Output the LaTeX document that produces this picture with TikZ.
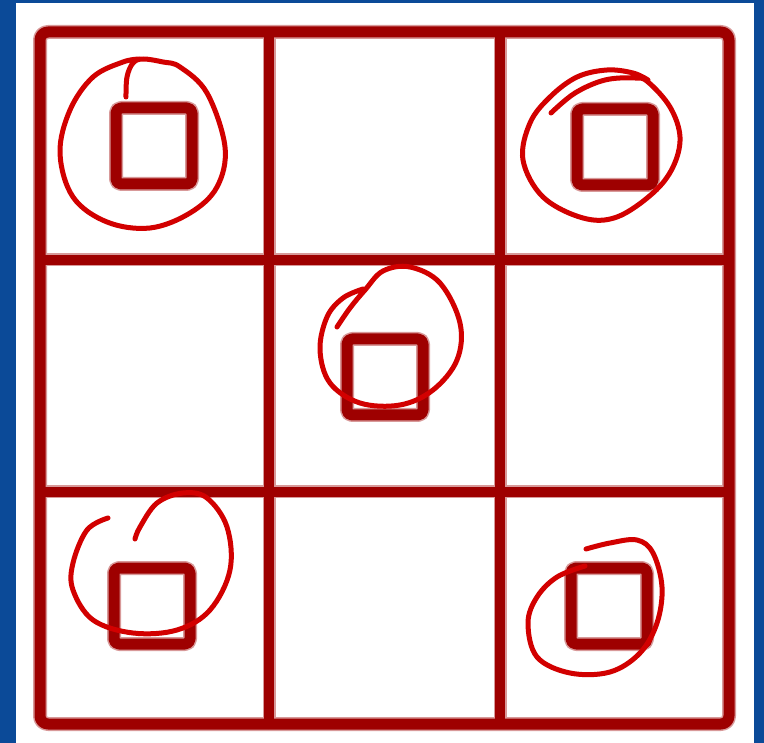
\documentclass[tikz,border=0pt]{standalone}
\definecolor{gridred}{RGB}{158,0,0}
\definecolor{penred}{RGB}{210,0,0}
\definecolor{frameblue}{RGB}{11,74,152}
\begin{document}
\begin{tikzpicture}[x=1pt, y=-1pt,
  halo/.style={draw=gridred!40, line width=13pt, line cap=round, line join=round},
  gridline/.style={draw=gridred, line width=10pt, line cap=round, line join=round},
  pen/.style={draw=penred, line width=5pt, line cap=round, line join=round}]
  % frame
  \fill[frameblue] (0,0) rectangle (764,743);
  \fill[white] (16,3) rectangle (754,743);
  \useasboundingbox (0,0) rectangle (764,743);

  % grid
  \draw[halo, line width=14pt, rounded corners=8pt] (40,32) rectangle (729,724);
  \foreach \x in {269,500} {
    \draw[halo] (\x,32) -- (\x,724);
  }
  \foreach \y in {260,492} {
    \draw[halo] (40,\y) -- (729,\y);
  }
  \draw[gridline, line width=11pt, rounded corners=8pt] (40,32) rectangle (729,724);
  \foreach \x in {269,500} {
    \draw[gridline] (\x,32) -- (\x,724);
  }
  \foreach \y in {260,492} {
    \draw[gridline] (40,\y) -- (729,\y);
  }

  % small squares
  \foreach \cx/\cy in {154/146, 615/147, 385/377, 152/606, 609/606} {
    \draw[halo, line width=14pt, rounded corners=5pt] (\cx-38,\cy-38) rectangle (\cx+38,\cy+38);
    \draw[gridline, line width=11pt, rounded corners=5pt] (\cx-38,\cy-38) rectangle (\cx+38,\cy+38);
  }

  % hand-drawn circles
  \draw[pen] plot[smooth, tension=0.6] coordinates {
    (126,97) (127,77) (133,63) (143,59) (163,62) (180,67) (207,93) (225,147)
    (217,187) (190,213) (150,228) (107,222) (73,197) (60,153) (70,110)
    (93,77) (123,62) (140,59)};
  \draw[pen] plot[smooth, tension=0.6] coordinates {
    (551,113) (575,93) (605,80) (635,78) (648,82) (670,107) (680,137)
    (673,167) (653,193) (617,217) (583,218) (543,197) (523,160) (530,123)
    (550,97) (577,77) (607,70) (633,73) (648,80)};
  \draw[pen] plot[smooth, tension=0.6] coordinates {
    (337,327) (350,308) (365,290) (383,271) (410,267) (440,283) (460,323)
    (457,360) (433,390) (400,405) (360,403) (330,383) (320,350) (327,317)
    (343,298) (363,289)};
  \draw[pen] plot[smooth, tension=0.6] coordinates {
    (108,518) (87,530) (73,563) (73,590) (93,620) (133,633) (177,630)
    (210,610) (230,570) (227,527) (207,498) (183,493) (157,503) (140,527)
    (135,539)};
  \draw[pen] plot[smooth, tension=0.6] coordinates {
    (586,549) (610,543) (637,540) (653,553) (662,587) (657,623) (640,653)
    (610,672) (570,673) (537,657) (528,623) (537,597) (557,577) (585,566)};
\end{tikzpicture}
\end{document}
